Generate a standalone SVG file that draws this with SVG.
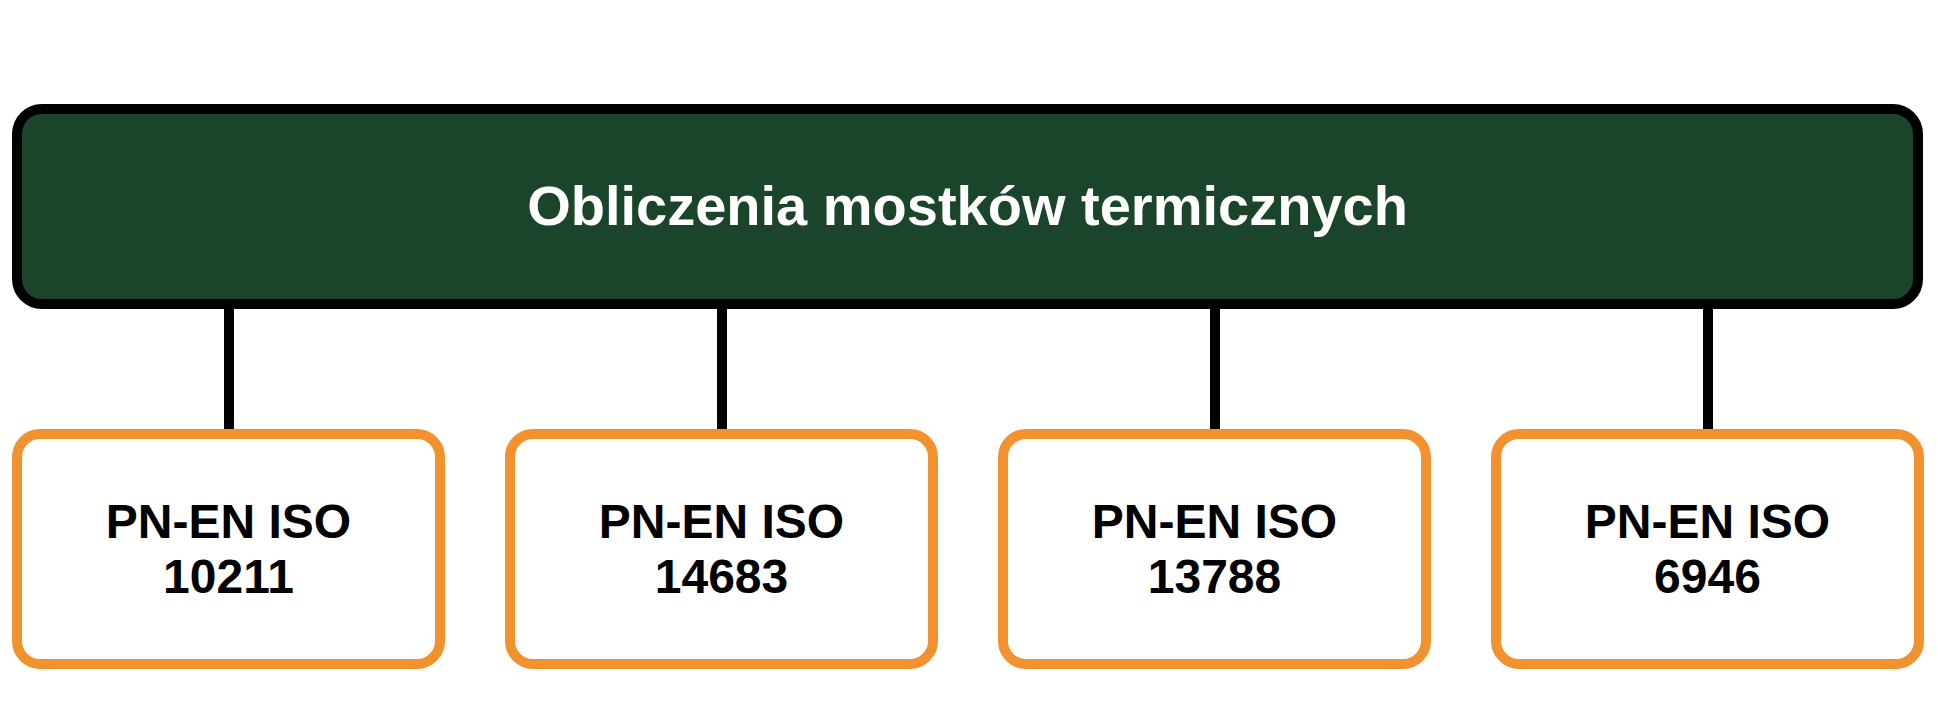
<svg xmlns="http://www.w3.org/2000/svg" width="1938" height="724" viewBox="0 0 1938 724">
<style>
.root{fill:#1B452A;stroke:#000;stroke-width:10}
.leaf{fill:#fff;stroke:#F2922F;stroke-width:10}
.conn{stroke:#000;stroke-width:10;fill:none}
.t1{font-family:"Liberation Sans",Arial,sans-serif;font-weight:bold;font-size:56px;fill:#fff;text-anchor:middle}
.t2{font-family:"Liberation Sans",Arial,sans-serif;font-weight:bold;font-size:48px;fill:#000;text-anchor:middle}
</style>
<rect width="1938" height="724" fill="#fff"/>
<g id="connectors">
<line class="conn" x1="229" y1="304" x2="229" y2="434"/>
<line class="conn" x1="722" y1="304" x2="722" y2="434"/>
<line class="conn" x1="1215" y1="304" x2="1215" y2="434"/>
<line class="conn" x1="1708" y1="304" x2="1708" y2="434"/>
</g>
<g id="root">
<rect class="root" x="17" y="109" width="1901" height="195" rx="25" ry="25"/>
<text class="t1" x="967.5" y="225">Obliczenia mostków termicznych</text>
</g>
<g id="n10211">
<rect class="leaf" x="17" y="434" width="423" height="230" rx="23" ry="23"/>
<text class="t2" x="228.5" y="537.7">PN-EN ISO</text>
<text class="t2" x="228.5" y="592.7">10211</text>
</g>
<g id="n14683">
<rect class="leaf" x="510" y="434" width="423" height="230" rx="23" ry="23"/>
<text class="t2" x="721.5" y="537.7">PN-EN ISO</text>
<text class="t2" x="721.5" y="592.7">14683</text>
</g>
<g id="n13788">
<rect class="leaf" x="1003" y="434" width="423" height="230" rx="23" ry="23"/>
<text class="t2" x="1214.5" y="537.7">PN-EN ISO</text>
<text class="t2" x="1214.5" y="592.7">13788</text>
</g>
<g id="n6946">
<rect class="leaf" x="1496" y="434" width="423" height="230" rx="23" ry="23"/>
<text class="t2" x="1707.5" y="537.7">PN-EN ISO</text>
<text class="t2" x="1707.5" y="592.7">6946</text>
</g>
</svg>
